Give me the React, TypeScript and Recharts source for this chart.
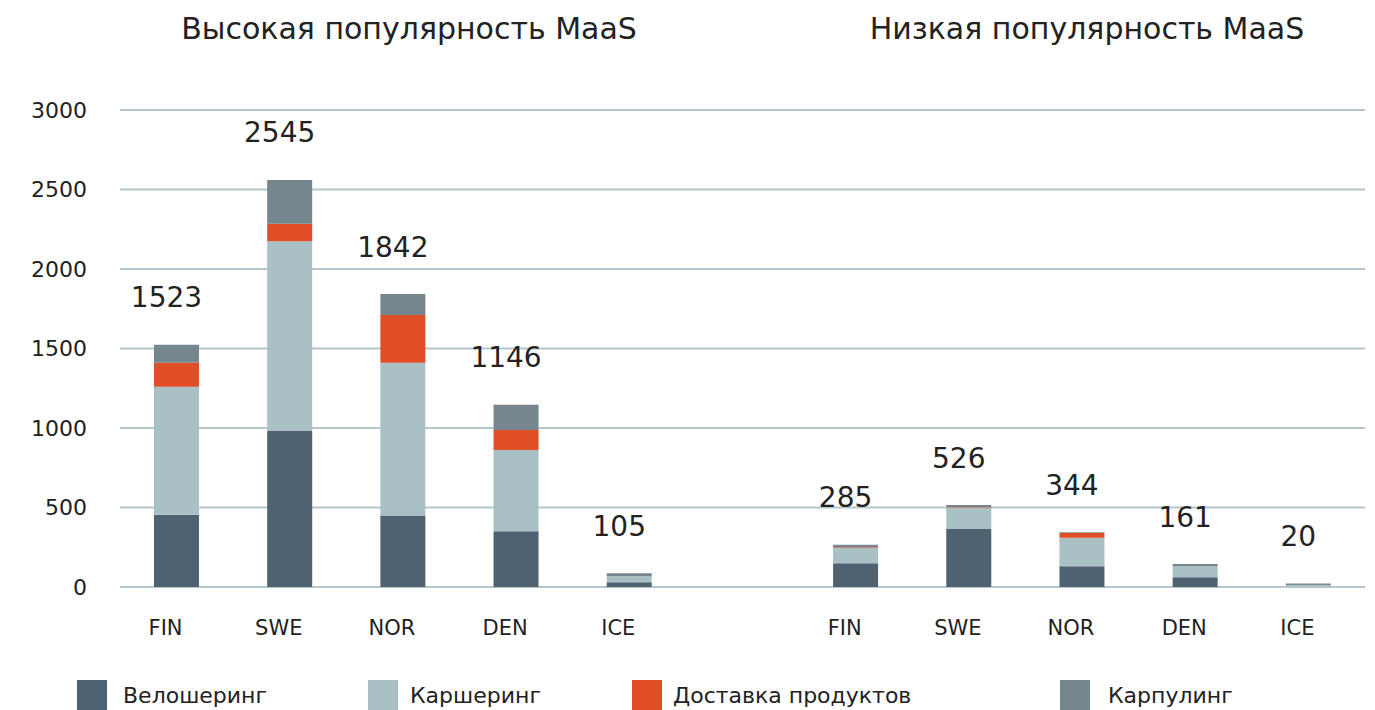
import React from 'react';
import { Bar, BarChart, CartesianGrid, LabelList, XAxis, YAxis } from 'recharts';

// left group = high MaaS popularity, right group = low; the blank slot is the gap between them
const countries = ['FIN', 'SWE', 'NOR', 'DEN', 'ICE', '', 'FIN', 'SWE', 'NOR', 'DEN', 'ICE'];
const bikeSharing = [455, 985, 450, 351, 30, 0, 150, 365, 130, 62, 0];
const carSharing = [805, 1190, 960, 511, 37, 0, 95, 135, 180, 70, 12];
const groceryDelivery = [150, 110, 300, 126, 0, 0, 5, 3, 30, 0, 0];
const carpooling = [113, 275, 132, 158, 19, 0, 15, 12, 4, 12, 10];
const totals = ['1523', '2545', '1842', '1146', '105', '', '285', '526', '344', '161', '20'];
const yTicks = [0, 500, 1000, 1500, 2000, 2500, 3000];

const series = [
    { key: 'bike', name: 'Велошеринг', color: '#4f6272', values: bikeSharing },
    { key: 'car', name: 'Каршеринг', color: '#a9c0c4', values: carSharing },
    { key: 'delivery', name: 'Доставка продуктов', color: '#e04e27', values: groceryDelivery },
    { key: 'pool', name: 'Карпулинг', color: '#76868f', values: carpooling },
];

const data = countries.map((c, i) => {
    const row: any = { id: `${c}-${i}`, country: c, total: totals[i] };
    series.forEach((s) => (row[s.key] = s.values[i]));
    return row;
});

const FONT = '"DejaVu Sans", Verdana, sans-serif';
const TEXT = '#222';

// legend swatch / text x positions, as in the original layout
const legendX = [77, 368, 632, 1060];
const legendTextX = [123, 410, 673, 1108];

function TotalLabel(props: any) {
    const { x, y, width, value } = props;
    if (!value) return null;
    return (
        <text x={x + width / 2 - 10} y={y - 47} textAnchor="middle" dominantBaseline="central"
            fontSize={28} fill={TEXT}>
            {value}
        </text>
    );
}

export default function App() {
    return (
        <div style={{ position: 'absolute', left: 0, top: 0, width: 1375, height: 710, fontFamily: FONT, background: '#fff' }}>
            <div style={{ position: 'absolute', left: 409, top: 28, transform: 'translate(-50%, -50%)', fontSize: 30, color: TEXT, whiteSpace: 'nowrap' }}>
                Высокая популярность MaaS
            </div>
            <div style={{ position: 'absolute', left: 1087, top: 28, transform: 'translate(-50%, -50%)', fontSize: 30, color: TEXT, whiteSpace: 'nowrap' }}>
                Низкая популярность MaaS
            </div>
            <div style={{ position: 'absolute', left: 0, top: 0 }}>
                <BarChart width={1375} height={710} data={data} margin={{ top: 110, right: 10, bottom: 93, left: 0 }} barSize={45}>
                    <CartesianGrid vertical={false} stroke="#b3c7cc" strokeWidth={2} />
                    <XAxis dataKey="id" axisLine={false} tickLine={false} tickSize={0} tickMargin={33}
                        tickFormatter={(_v: any, i: number) => countries[i]}
                        tick={{ fontSize: 21, fill: TEXT, dx: -11 }} interval={0} />
                    <YAxis width={120} domain={[0, 3000]} ticks={yTicks} axisLine={false} tickLine={false}
                        tickSize={0} tickMargin={33} tick={{ fontSize: 22, fill: TEXT }} />
                    {series.map((s, i) => (
                        <Bar key={s.key} dataKey={s.key} name={s.name} stackId="a" fill={s.color}
                            isAnimationActive={false}>
                            {i === series.length - 1 && <LabelList dataKey="total" content={<TotalLabel />} />}
                        </Bar>
                    ))}
                </BarChart>
            </div>
            {series.map((s, i) => (
                <React.Fragment key={s.key}>
                    <div style={{ position: 'absolute', left: legendX[i], top: 680, width: 30, height: 30, background: s.color }} />
                    <div style={{ position: 'absolute', left: legendTextX[i], top: 695, transform: 'translateY(-50%)', fontSize: 22, color: TEXT, whiteSpace: 'nowrap' }}>
                        {s.name}
                    </div>
                </React.Fragment>
            ))}
        </div>
    );
}
